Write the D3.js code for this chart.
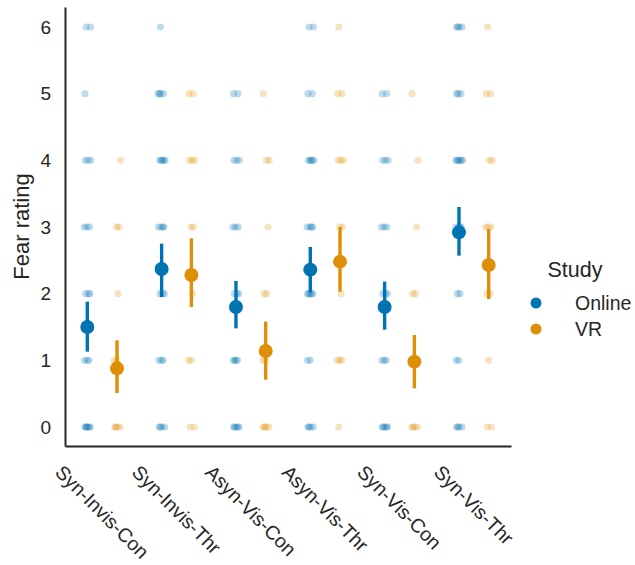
<!DOCTYPE html>
<html>
<head>
<meta charset="utf-8">
<script src="https://cdn.jsdelivr.net/npm/d3@7"></script>
<style>
  body { margin: 0; background: #fff; }
  text { font-family: "Liberation Sans", Arial, sans-serif; fill: #262626; }
</style>
</head>
<body>
<div id="chart"></div>
<script>
var categories = ["Syn-Invis-Con", "Syn-Invis-Thr", "Asyn-Vis-Con", "Asyn-Vis-Thr", "Syn-Vis-Con", "Syn-Vis-Thr"];
var studies = ["Online", "VR"];
var ratings = [0, 1, 2, 3, 4, 5, 6];

// number of responses at each rating 0..6, per condition
var onlineCounts = [
    [6, 3, 3, 3, 3, 1, 2],
    [4, 3, 3, 4, 5, 4, 1],
    [5, 4, 3, 3, 3, 2, 0],
    [4, 2, 5, 4, 5, 2, 2],
    [5, 3, 3, 3, 3, 2, 0],
    [4, 2, 2, 4, 6, 3, 4]
];
var vrCounts = [
    [4, 2, 1, 2, 1, 0, 0],
    [2, 2, 1, 2, 3, 2, 0],
    [4, 2, 2, 1, 2, 1, 0],
    [1, 3, 1, 2, 3, 2, 1],
    [4, 1, 2, 1, 1, 1, 0],
    [2, 1, 2, 3, 2, 2, 1]
];

// means and 95% CI
var onlineMean = [1.50, 2.37, 1.80, 2.36, 1.80, 2.92];
var onlineLo   = [1.13, 1.95, 1.48, 2.02, 1.46, 2.57];
var onlineHi   = [1.88, 2.75, 2.19, 2.70, 2.18, 3.30];
var vrMean = [0.88, 2.28, 1.14, 2.48, 0.98, 2.43];
var vrLo   = [0.51, 1.80, 0.71, 2.03, 0.58, 1.92];
var vrHi   = [1.30, 2.83, 1.58, 3.00, 1.38, 2.97];

var colors = {"Online": "#0173b2", "VR": "#de8f05"};

var w = 635, h = 565;
var padLeft = 65, padRight = 511, padTop = 7, padBottom = 446;

var svg = d3.select("#chart")
    .append("svg")
    .attr("width", w)
    .attr("height", h);

///////// SCALES /////////
var xscale = d3.scaleBand()
    .domain(categories)
    .range([padLeft, padRight])
    .padding(0);

function xpos(cat, study) {
    return xscale(cat) + xscale.bandwidth() / 2 + (study == "Online" ? -1 : 1) * 0.2 * xscale.bandwidth();
}

var yscale = d3.scaleLinear()
    .domain([-0.285, 6.3])
    .range([padBottom, padTop]);

///////// STRIP POINTS /////////
var strip = [];
categories.forEach(function(c, ci) {
    studies.forEach(function(s) {
        var counts = s == "Online" ? onlineCounts[ci] : vrCounts[ci];
        ratings.forEach(function(r, ri) {
            for (var k = 0; k < counts[ri]; k++) {
                strip.push({cat: c, study: s, rating: r, k: k});
            }
        });
    });
});

svg.append("g")
    .selectAll("circle")
    .data(strip)
    .enter()
    .append("circle")
    .attr("cx", function(d) {
        var off = ((d.k * 0.618 + 0.31 + d.rating * 0.17) % 1 - 0.5) * 7;
        return xpos(d.cat, d.study) + off;
    })
    .attr("cy", function(d) { return yscale(d.rating); })
    .attr("r", 3.6)
    .attr("fill", function(d) { return colors[d.study]; })
    .attr("fill-opacity", 0.25);

///////// AXES /////////
var yaxis = d3.axisLeft(yscale)
    .tickValues(ratings)
    .tickFormat(d3.format("d"))
    .tickSize(0)
    .tickSizeOuter(0)
    .tickPadding(14);

var gy = svg.append("g")
    .attr("transform", "translate(" + padLeft + ",0)")
    .call(yaxis);
gy.selectAll("text")
    .attr("font-size", "19px")
    .attr("font-family", "Liberation Sans, Arial, sans-serif")
    .attr("fill", "#262626");
gy.select(".domain").attr("stroke", "#262626").attr("stroke-width", 2);

var xaxis = d3.axisBottom(xscale)
    .tickSize(0)
    .tickSizeOuter(0);

var gx = svg.append("g")
    .attr("transform", "translate(0," + padBottom + ")")
    .call(xaxis);
gx.select(".domain").attr("stroke", "#262626").attr("stroke-width", 2);
gx.selectAll(".tick text")
    .attr("font-size", "19.5px")
    .attr("font-family", "Liberation Sans, Arial, sans-serif")
    .attr("fill", "#262626")
    .attr("y", 0)
    .attr("dy", "0.35em")
    .attr("text-anchor", "middle")
    .attr("transform", function() {
        var L = this.getComputedTextLength();
        var fh = 19.5 * 1.1;
        var H = (L + fh) * Math.SQRT1_2;
        return "translate(0," + (15 + H / 2) + ") rotate(45)";
    });

svg.append("text")
    .attr("transform", "translate(29," + ((padTop + padBottom) / 2) + ") rotate(-90)")
    .attr("text-anchor", "middle")
    .attr("font-size", "22px")
    .text("Fear rating");

///////// POINT PLOT /////////
var summary = [];
categories.forEach(function(c, i) {
    summary.push({cat: c, study: "Online", mean: onlineMean[i], lo: onlineLo[i], hi: onlineHi[i]});
    summary.push({cat: c, study: "VR", mean: vrMean[i], lo: vrLo[i], hi: vrHi[i]});
});

var gp = svg.append("g");
gp.selectAll("line")
    .data(summary)
    .enter()
    .append("line")
    .attr("x1", function(d) { return xpos(d.cat, d.study); })
    .attr("x2", function(d) { return xpos(d.cat, d.study); })
    .attr("y1", function(d) { return yscale(d.lo); })
    .attr("y2", function(d) { return yscale(d.hi); })
    .attr("stroke", function(d) { return colors[d.study]; })
    .attr("stroke-width", 3.4);

gp.selectAll("circle")
    .data(summary)
    .enter()
    .append("circle")
    .attr("cx", function(d) { return xpos(d.cat, d.study); })
    .attr("cy", function(d) { return yscale(d.mean); })
    .attr("r", 7)
    .attr("fill", function(d) { return colors[d.study]; });

///////// LEGEND /////////
var legend = svg.append("g");
legend.append("text")
    .attr("x", 575)
    .attr("y", 277)
    .attr("text-anchor", "middle")
    .attr("font-size", "21.5px")
    .text("Study");

var items = legend.selectAll(".item")
    .data(studies)
    .enter()
    .append("g")
    .attr("class", "item")
    .attr("transform", function(d, i) { return "translate(0," + (303 + i * 26) + ")"; });

items.append("circle")
    .attr("cx", 536)
    .attr("cy", 0)
    .attr("r", 5.5)
    .attr("fill", function(d) { return colors[d]; });

items.append("text")
    .attr("x", 575)
    .attr("y", 0)
    .attr("dy", "0.35em")
    .attr("font-size", "19.5px")
    .text(function(d) { return d; });
</script>
</body>
</html>
